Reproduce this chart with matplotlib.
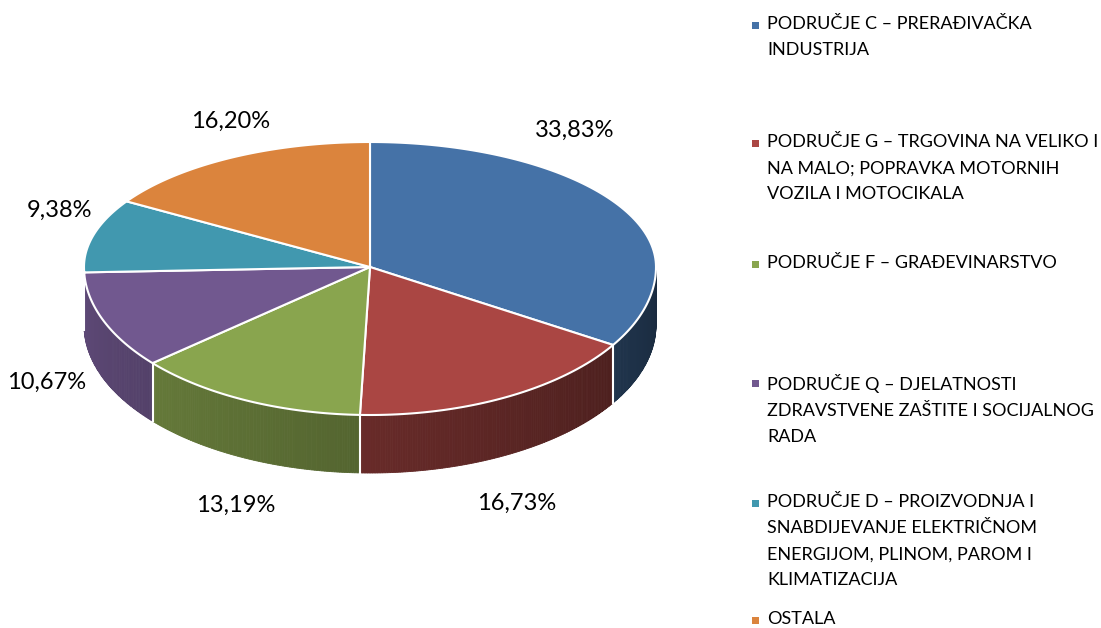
import matplotlib.pyplot as plt
import numpy as np
from matplotlib.patches import Polygon
from matplotlib.colors import to_rgb

plt.rcParams['font.family'] = ['Lato', 'DejaVu Sans']

# data
categories = [
    "PODRUČJE C – PRERAĐIVAČKA\nINDUSTRIJA",
    "PODRUČJE G – TRGOVINA NA VELIKO I\nNA MALO; POPRAVKA MOTORNIH\nVOZILA I MOTOCIKALA",
    "PODRUČJE F – GRAĐEVINARSTVO",
    "PODRUČJE Q – DJELATNOSTI\nZDRAVSTVENE ZAŠTITE I SOCIJALNOG\nRADA",
    "PODRUČJE D – PROIZVODNJA I\nSNABDIJEVANJE ELEKTRIČNOM\nENERGIJOM, PLINOM, PAROM I\nKLIMATIZACIJA",
    "OSTALA",
]
shares = [33.83, 16.73, 13.19, 10.67, 9.38, 16.20]
labels = ["33,83%", "16,73%", "13,19%", "10,67%", "9,38%", "16,20%"]
colors = ["#4572A7", "#AA4643", "#89A54E", "#71588F", "#4198AF", "#DB843D"]

# where excel put the percentage labels (pixel coords)
label_xy = [(575, 130), (517, 503), (236, 505), (47, 382), (60, 210), (231, 121)]
legend_y = [25, 143, 264, 383, 503, 620]

W, H = 1101, 628
fig = plt.figure(figsize=(W / 100, H / 100), dpi=100)
ax = fig.add_axes([0, 0, 1, 1])
ax.set_xlim(0, W)
ax.set_ylim(H, 0)
ax.axis('off')

cx, cy = 370, 267
rx = 286
ry_back, ry_front = 125, 148   # a bit of perspective
depth = 58


def pt(theta, dz=0):
    # theta in degrees, clockwise from 12 o'clock
    t = np.radians(theta)
    c = np.cos(t)
    ry = ry_back if c > 0 else ry_front
    return cx + rx * np.sin(t), cy - ry * c + dz


def shade(theta):
    return 0.37 + (theta - 90) / 180 * 0.47


bounds = np.concatenate([[0], np.cumsum(shares) / np.sum(shares) * 360])

# side walls (front half only, 90..270 deg), drawn in thin strips for shading
for i in range(len(shares)):
    a0 = max(bounds[i], 90)
    a1 = min(bounds[i + 1], 270)
    if a1 <= a0:
        continue
    base = np.array(to_rgb(colors[i]))
    steps = np.linspace(a0, a1, max(2, int((a1 - a0) * 2)))
    for s0, s1 in zip(steps[:-1], steps[1:]):
        f = shade((s0 + s1) / 2)
        ang = np.linspace(s0, s1, 4)
        top = [pt(a) for a in ang]
        bot = [pt(a, depth) for a in ang[::-1]]
        ax.add_patch(Polygon(top + bot, closed=True, facecolor=base * f,
                             edgecolor=base * f, lw=0.6))

# white seams between wall pieces
for b in bounds[1:-1]:
    if 90 < b < 270:
        x0, y0 = pt(b)
        x1, y1 = pt(b, depth)
        ax.plot([x0, x1], [y0, y1], color='white', lw=1.5)

# top faces
for i in range(len(shares)):
    ang = np.linspace(bounds[i], bounds[i + 1], 100)
    verts = [(cx, cy)] + [pt(a) for a in ang]
    ax.add_patch(Polygon(verts, closed=True, facecolor=colors[i],
                         edgecolor='white', lw=1.5))

# percentage labels
for (x, y), lab in zip(label_xy, labels):
    ax.text(x, y, lab, fontsize=17, ha='center', va='center', color='#000000')

# legend
for y, cat, c in zip(legend_y, categories, colors):
    ax.add_patch(Polygon([(752, y - 3.5), (759, y - 3.5), (759, y + 3.5), (752, y + 3.5)],
                         closed=True, facecolor=c, edgecolor='none'))
    ax.text(767, y - 9, cat, fontsize=13, ha='left', va='top',
            linespacing=1.78, color='#000000')

fig.savefig('out.png', dpi=100, facecolor='white')
